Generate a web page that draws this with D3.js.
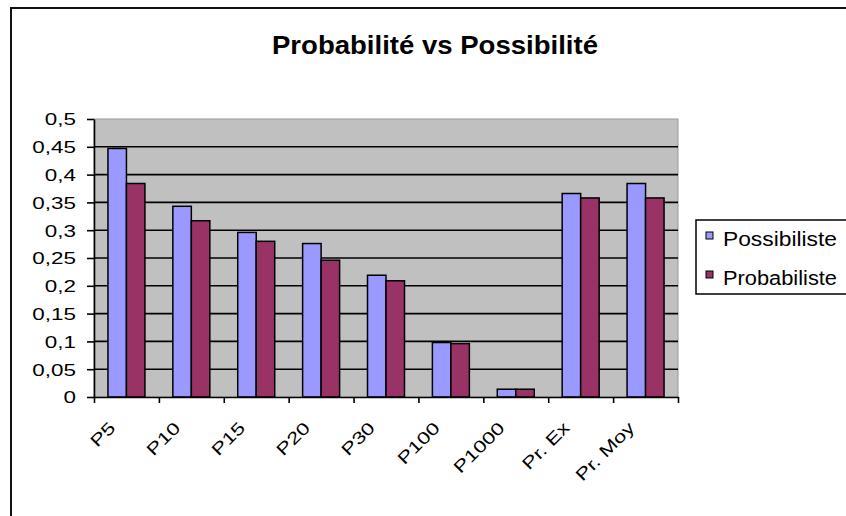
<!DOCTYPE html>
<html>
<head>
<meta charset="utf-8">
<script src="https://cdn.jsdelivr.net/npm/d3@7"></script>
<style>
  body { margin: 0; background: #fff; overflow: hidden; }
</style>
</head>
<body>
<script>
const categories = ["P5", "P10", "P15", "P20", "P30", "P100", "P1000", "Pr. Ex", "Pr. Moy"];
const series = ["Possibiliste", "Probabiliste"];
const possibiliste = [0.447, 0.343, 0.296, 0.276, 0.219, 0.098, 0.014, 0.366, 0.384];
const probabiliste = [0.384, 0.317, 0.280, 0.246, 0.209, 0.096, 0.014, 0.358, 0.358];
const yTicks = [0, 0.05, 0.1, 0.15, 0.2, 0.25, 0.3, 0.35, 0.4, 0.45, 0.5];
const colors = ["#9999ff", "#993366"];
const title = "Probabilité vs Possibilité";

const font = '"Liberation Sans", Arial, sans-serif';
const plot = {left: 94, right: 678, top: 119, bottom: 397};

const svg = d3.select("body").append("svg")
    .attr("width", 846)
    .attr("height", 516)
    .style("font-family", font);

// chart frame (cut off on the right and bottom)
svg.append("rect")
    .attr("x", 11).attr("y", 8)
    .attr("width", 900).attr("height", 600)
    .attr("fill", "#fff")
    .attr("stroke", "#111")
    .attr("stroke-width", 2);

// title
svg.append("text")
    .attr("x", 435).attr("y", 54)
    .attr("text-anchor", "middle")
    .attr("font-size", 25)
    .attr("font-weight", "bold")
    .attr("textLength", 326)
    .attr("lengthAdjust", "spacingAndGlyphs")
    .text(title);

const rows = categories.map((c, i) => ({cat: c, values: [possibiliste[i], probabiliste[i]]}));

const x = d3.scaleBand()
    .domain(categories)
    .range([plot.left, plot.right])
    .paddingInner(0.43)
    .paddingOuter(0.215);

const xs = d3.scaleBand()
    .domain(series)
    .range([0, x.bandwidth()]);

const y = d3.scaleLinear()
    .domain([0, 0.5])
    .range([plot.bottom, plot.top]);

// plot area
svg.append("rect")
    .attr("x", plot.left).attr("y", plot.top)
    .attr("width", plot.right - plot.left)
    .attr("height", plot.bottom - plot.top)
    .attr("fill", "#c0c0c0")
    .attr("stroke", "#9a9a9a")
    .attr("stroke-width", 1);

// gridlines
svg.append("g")
    .attr("class", "grid")
    .selectAll("line")
    .data(yTicks.filter((t) => t > 0 && t < 0.5))
    .join("line")
    .attr("x1", plot.left).attr("x2", plot.right)
    .attr("y1", (d) => y(d)).attr("y2", (d) => y(d))
    .attr("stroke", "#000")
    .attr("stroke-width", 1.6);

// bars
const groups = svg.append("g").selectAll("g.box")
    .data(rows)
    .join("g")
    .attr("class", "box")
    .attr("transform", (d) => "translate(" + x(d.cat) + ",0)");

groups.selectAll("rect")
    .data((d) => d.values.map((v, i) => ({key: series[i], value: v, color: colors[i]})))
    .join("rect")
    .attr("x", (d) => xs(d.key))
    .attr("y", (d) => y(d.value))
    .attr("width", xs.bandwidth())
    .attr("height", (d) => y(0) - y(d.value))
    .attr("fill", (d) => d.color)
    .attr("stroke", "#000")
    .attr("stroke-width", 1.5);

// y axis
const fmt = d3.formatLocale({decimal: ",", thousands: " ", grouping: [3], currency: ["", ""]}).format(".2~f");
const yAxis = svg.append("g")
    .attr("class", "yaxis")
    .attr("transform", "translate(" + plot.left + ",0)")
    .call(d3.axisLeft(y).tickValues(yTicks).tickSize(7).tickSizeOuter(0).tickFormat(fmt));
yAxis.selectAll("text")
    .attr("x", 0)
    .attr("dy", "0.35em")
    .attr("transform", "translate(-18,0) scale(1.32,1)")
    .attr("fill", "#000")
    .style("font-size", "17px")
    .style("font-family", font);

// x axis: labels under each category
const xAxis = svg.append("g")
    .attr("class", "xaxis")
    .attr("transform", "translate(0," + plot.bottom + ")")
    .call(d3.axisBottom(x).tickSize(0).tickSizeOuter(0));
xAxis.select(".domain").remove();
xAxis.selectAll("text")
    .attr("y", 0)
    .attr("dy", 0)
    .attr("text-anchor", "end")
    .attr("transform", "translate(-10,32) rotate(-45) scale(1.3,1)")
    .attr("fill", "#000")
    .style("font-size", "17px")
    .style("font-family", font);

// x axis: ticks on category boundaries
const xEdge = d3.scaleLinear().domain([0, categories.length]).range([plot.left, plot.right]);
svg.append("g")
    .attr("class", "xaxis")
    .attr("transform", "translate(0," + plot.bottom + ")")
    .call(d3.axisBottom(xEdge).tickValues(d3.range(categories.length + 1)).tickSize(6).tickSizeOuter(0).tickFormat(""));

svg.selectAll(".yaxis path, .yaxis line, .xaxis path, .xaxis line")
    .attr("stroke", "#000")
    .attr("stroke-width", 1.6);

// legend
const legend = svg.append("g").attr("class", "legend");
legend.append("rect")
    .attr("x", 696).attr("y", 220)
    .attr("width", 170).attr("height", 74)
    .attr("fill", "#fff")
    .attr("stroke", "#000")
    .attr("stroke-width", 1.5);

const items = legend.selectAll("g.item")
    .data(series)
    .join("g")
    .attr("class", "item")
    .attr("transform", (d, i) => "translate(0," + (i * 39) + ")");

items.append("rect")
    .attr("x", 706).attr("y", 232)
    .attr("width", 7).attr("height", 7)
    .attr("fill", (d, i) => colors[i])
    .attr("stroke", "#000")
    .attr("stroke-width", 1);

items.append("text")
    .attr("x", 723).attr("y", 246)
    .attr("font-size", 20)
    .attr("textLength", 114)
    .attr("lengthAdjust", "spacingAndGlyphs")
    .text((d) => d);
</script>
</body>
</html>
